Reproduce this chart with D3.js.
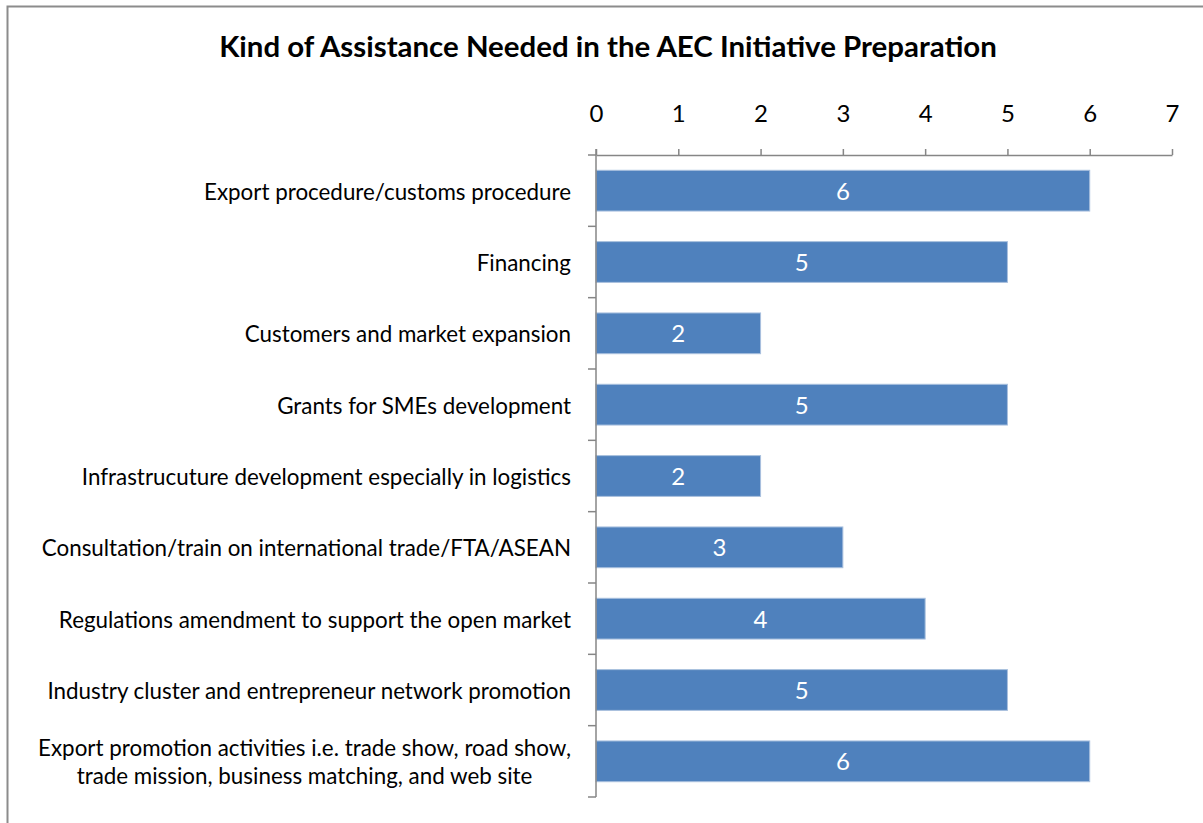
<!DOCTYPE html>
<html>
<head>
<meta charset="utf-8">
<script src="https://cdn.jsdelivr.net/npm/d3@7/dist/d3.min.js"></script>
<style>
  html, body { margin: 0; padding: 0; background: #fff; }
  svg { display: block; }
  text { font-family: Lato, "Open Sans", "DejaVu Sans", sans-serif; }
</style>
</head>
<body>
<svg id="chart" width="1203" height="823"></svg>
<script>
// Survey results: number of respondents per kind of assistance
const categories = [
  "Export procedure/customs procedure",
  "Financing",
  "Customers and market expansion",
  "Grants for SMEs development",
  "Infrastrucuture development especially in logistics",
  "Consultation/train on international trade/FTA/ASEAN",
  "Regulations amendment to support the open market",
  "Industry cluster and entrepreneur network promotion",
  "Export promotion activities i.e. trade show, road show,\ntrade mission, business matching, and web site"
];
const counts = [6, 5, 2, 5, 2, 3, 4, 5, 6];
const tickValues = [0, 1, 2, 3, 4, 5, 6, 7];
const chartTitle = "Kind of Assistance Needed in the AEC Initiative Preparation";

const W = 1203, H = 823;
const plot = { left: 596, right: 1172, top: 155, bottom: 797 };
const barColor = "#4F81BD";
const axisColor = "#868686";

const svg = d3.select("#chart");

// Outer chart frame (extends past the right and bottom edges)
svg.append("rect")
  .attr("x", 7.5).attr("y", 6.5)
  .attr("width", W + 20).attr("height", H + 20)
  .attr("fill", "#fff")
  .attr("stroke", "#8c8c8c")
  .attr("stroke-width", 2);

// Title
const title = svg.append("text")
  .attr("x", 608).attr("y", 57)
  .attr("text-anchor", "middle")
  .attr("font-weight", "bold")
  .style("font-size", "26px")
  .attr("fill", "#000")
  .text(chartTitle);
{
  const len = title.node().getComputedTextLength();
  title.style("font-size", (26 * 778 / len) + "px");
}

const x = d3.scaleLinear().domain([0, 7]).range([plot.left, plot.right]);
const y = d3.scaleBand()
  .domain(categories)
  .range([plot.top, plot.bottom])
  .paddingInner(0.75 / 1.75)
  .paddingOuter(0.75 / 3.5);

// Bars
svg.append("g").selectAll("rect")
  .data(categories)
  .join("rect")
  .attr("x", x(0))
  .attr("y", d => y(d))
  .attr("width", (d, i) => x(counts[i]) - x(0))
  .attr("height", y.bandwidth())
  .attr("fill", barColor)
  .attr("stroke", "#a9c0de")
  .attr("stroke-width", 1);

// Value labels inside the bars
svg.append("g").selectAll("text")
  .data(categories)
  .join("text")
  .attr("x", (d, i) => x(counts[i] / 2))
  .attr("y", d => y(d) + y.bandwidth() / 2 + 9)
  .attr("text-anchor", "middle")
  .style("font-size", "24px")
  .attr("fill", "#fff")
  .text((d, i) => counts[i]);

// Top value axis
const xAxis = svg.append("g")
  .attr("transform", `translate(0,${plot.top})`)
  .call(d3.axisTop(x).tickValues(tickValues).tickSizeInner(6).tickSizeOuter(0).tickPadding(27).tickFormat(d3.format("d")));
xAxis.select(".domain").attr("stroke", axisColor).attr("stroke-width", 1.5);
xAxis.selectAll(".tick line").attr("stroke", axisColor).attr("stroke-width", 1.5);
xAxis.selectAll(".tick text")
  .style("font-size", "24px")
  .attr("fill", "#000")
  .style("font-family", "Lato, 'Open Sans', sans-serif");

// Category axis: vertical line with ticks at band boundaries
const step = y.step();
const boundaries = d3.range(categories.length + 1).map(i => plot.top + i * step);
const catAxis = svg.append("g");
catAxis.append("line")
  .attr("x1", x(0)).attr("x2", x(0))
  .attr("y1", plot.top - 6).attr("y2", plot.bottom)
  .attr("stroke", axisColor).attr("stroke-width", 1.5);
catAxis.selectAll("line.tick")
  .data(boundaries)
  .join("line")
  .attr("class", "tick")
  .attr("x1", x(0) - 8).attr("x2", x(0))
  .attr("y1", d => d).attr("y2", d => d)
  .attr("stroke", axisColor).attr("stroke-width", 1.5);

// Category labels, right-aligned against the axis
const labelGroup = svg.append("g");
const labels = labelGroup.selectAll("text")
  .data(categories)
  .join("text")
  .attr("text-anchor", "end")
  .style("font-size", "20px")
  .attr("fill", "#000");

labels.each(function(d) {
  const lines = d.split("\n");
  const cy = y(d) + y.bandwidth() / 2;
  const lh = 28;
  const t = d3.select(this);
  lines.forEach((ln, k) => {
    t.append("tspan")
      .attr("x", 571)
      .attr("y", cy + 9 + (k - (lines.length - 1) / 2) * lh)
      .attr("text-anchor", lines.length > 1 ? "middle" : "end")
      .text(ln);
  });
});

// Scale label font so the longest single-line label spans its measured width
{
  const ref = labels.filter(d => d.startsWith("Industry cluster"));
  const len = ref.node().getComputedTextLength();
  const fs = 20 * 524 / len;
  labels.style("font-size", fs + "px");
  // center the two-line label over its own widest line
  labels.filter(d => d.includes("\n")).each(function() {
    const spans = d3.select(this).selectAll("tspan");
    let maxW = 0;
    spans.each(function() { maxW = Math.max(maxW, this.getComputedTextLength()); });
    spans.attr("x", 571 - maxW / 2);
  });
}
</script>
</body>
</html>
